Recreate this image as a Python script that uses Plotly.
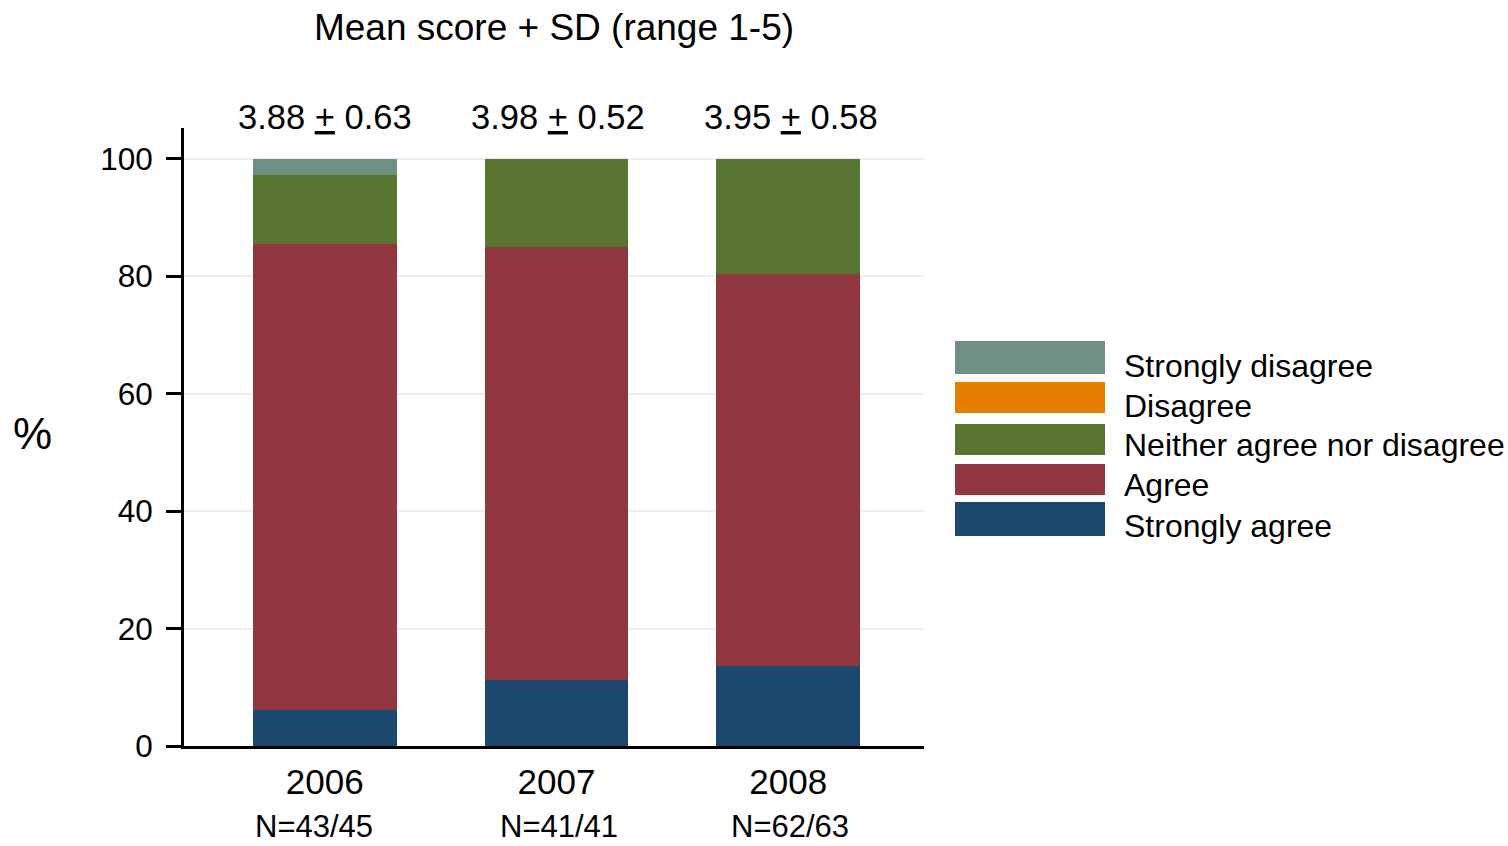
import plotly.graph_objects as go

# ---- data ----
years = ["2006", "2007", "2008"]
strongly_agree = [6.2, 11.3, 13.7]
agree = [79.3, 73.7, 66.6]
neither = [11.7, 15.0, 19.7]
disagree = [0.0, 0.0, 0.0]
strongly_disagree = [2.8, 0.0, 0.0]
mean_scores = ["3.88", "3.98", "3.95"]
sd_scores = ["0.63", "0.52", "0.58"]
n_labels = ["N=43/45", "N=41/41", "N=62/63"]
y_ticks = [0, 20, 40, 60, 80, 100]

series_names = ["Strongly agree", "Agree", "Neither agree nor disagree", "Disagree", "Strongly disagree"]
series_values = [strongly_agree, agree, neither, disagree, strongly_disagree]
colors = {
    "Strongly disagree": "#6f8f82",
    "Disagree": "#e67e00",
    "Neither agree nor disagree": "#577530",
    "Agree": "#91373f",
    "Strongly agree": "#1c4870",
}

FONT = "Liberation Sans, Arial, sans-serif"
W, H = 1508, 846
L, R, T, B = 184, 924, 128, 746


def px_x(p):
    return (p - L) / (R - L)


def px_y(p):
    return (B - p) / (B - T)


fig = go.Figure()
for name, vals in zip(series_names, series_values):
    fig.add_trace(go.Bar(
        x=years, y=vals, name=name, width=0.62,
        marker=dict(color=colors[name], line=dict(width=0)),
        showlegend=False,
    ))

annotations = []
# mean +/- SD labels above bars
m_shift = [0, 2, 3]
for i, (m, s, sh) in enumerate(zip(mean_scores, sd_scores, m_shift)):
    annotations.append(dict(
        x=i, xref="x", y=px_y(117), yref="paper",
        text=f"{m} <u>+</u> {s}", showarrow=False, xshift=sh,
        xanchor="center", yanchor="middle",
        font=dict(family=FONT, size=34.5, color="black"),
    ))
# N labels below years
n_shift = [-11, 3, 2]
for i, (n, sh) in enumerate(zip(n_labels, n_shift)):
    annotations.append(dict(
        x=i, xref="x", y=px_y(826), yref="paper",
        text=n, showarrow=False, xshift=sh,
        xanchor="center", yanchor="middle",
        font=dict(family=FONT, size=31, color="black"),
    ))
# y-axis title
annotations.append(dict(
    x=px_x(32), xref="paper", y=px_y(433), yref="paper",
    text="%", showarrow=False, xanchor="center", yanchor="middle",
    font=dict(family=FONT, size=44, color="black"),
))

# legend drawn as swatches + labels
legend_order = ["Strongly disagree", "Disagree", "Neither agree nor disagree", "Agree", "Strongly agree"]
sw_top = [341, 382, 424, 464, 502]
sw_bot = [374, 413, 455, 495, 536]
txt_y = [366, 406, 445, 485, 526]
shapes = []
for name, t0, b0, ty in zip(legend_order, sw_top, sw_bot, txt_y):
    shapes.append(dict(
        type="rect", xref="paper", yref="paper",
        x0=px_x(955), x1=px_x(1105), y0=px_y(b0), y1=px_y(t0),
        fillcolor=colors[name], line=dict(width=0),
    ))
    annotations.append(dict(
        x=px_x(1122), xref="paper", y=px_y(ty), yref="paper",
        text=name, showarrow=False, xanchor="left", yanchor="middle",
        font=dict(family=FONT, size=32, color="black"),
    ))

fig.update_layout(
    width=W, height=H,
    margin=dict(l=L, r=W - R, t=T, b=H - B, pad=0),
    barmode="stack",
    bargap=0.38,
    plot_bgcolor="white", paper_bgcolor="white",
    title=dict(
        text="Mean score + SD (range 1-5)",
        x=0.5, xref="paper", xanchor="center",
        y=1 - 27 / H, yref="container", yanchor="middle",
        font=dict(family=FONT, size=37, color="black"),
    ),
    font=dict(family=FONT, color="black"),
    annotations=annotations,
    shapes=shapes,
)
fig.update_xaxes(
    type="category", range=[-0.607, 2.586],
    showline=True, linecolor="black", linewidth=3,
    ticks="", showgrid=False, zeroline=False,
    tickfont=dict(family=FONT, size=35, color="black"),
    ticklabelstandoff=3,
)
fig.update_yaxes(
    range=[0, 105.2], tickvals=y_ticks,
    showline=True, linecolor="black", linewidth=3,
    ticks="outside", ticklen=15, tickwidth=3, tickcolor="black",
    showgrid=True, gridcolor="#e8eff0", gridwidth=2,
    zeroline=False,
    tickfont=dict(family=FONT, size=31.5, color="black"),
    ticklabelstandoff=7,
)

fig.write_html(
    "out.html",
    config={"displayModeBar": False},
    post_script="document.body.style.margin='0';document.body.style.overflow='hidden';",
)
